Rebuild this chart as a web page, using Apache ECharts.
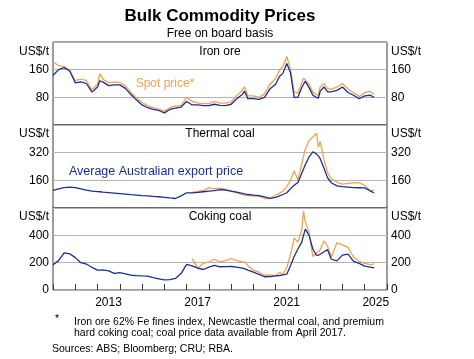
<!DOCTYPE html>
<html>
<head>
<meta charset="utf-8">
<script src="https://cdn.jsdelivr.net/npm/echarts@6/dist/echarts.min.js"></script>
<style>html,body{margin:0;padding:0;background:#fff}#c{width:474px;height:359px}</style>
</head>
<body>
<div id="c"></div>
<script>
// Decimal-year dates of the readings
const dates = [2011.0, 2011.25, 2011.5, 2011.75, 2012.0, 2012.25, 2012.5, 2012.75,
  2013.0, 2013.1, 2013.25, 2013.5, 2013.75, 2014.0, 2014.25, 2014.5, 2014.75,
  2015.0, 2015.25, 2015.5, 2015.75, 2016.0, 2016.25, 2016.5, 2016.75,
  2017.0, 2017.25, 2017.5, 2017.75, 2018.0, 2018.25, 2018.5, 2018.75,
  2019.0, 2019.25, 2019.5, 2019.6, 2019.75, 2020.0, 2020.25, 2020.5, 2020.75,
  2021.0, 2021.17, 2021.33, 2021.5, 2021.67, 2021.83,
  2022.0, 2022.17, 2022.25, 2022.33, 2022.5, 2022.67, 2022.83, 2022.92,
  2023.0, 2023.17, 2023.33, 2023.5, 2023.75,
  2024.0, 2024.25, 2024.5, 2024.75, 2025.0, 2025.25, 2025.42];

// Iron ore (US$/t)
const ironSpot = [182, 172, 169, 158, 128, 133, 128, 102,
  118, 148, 132, 122, 124, 123, 113, 94, 78,
  65, 56, 50, 46, 40, 50, 55, 56,
  80, 68, 64, 62, 62, 68, 63, 63,
  67, 85, 100, 111, 84, 84, 80, 90, 118,
  135, 158, 170, 198, 160, 95,
  92, 122, 135, 140, 118, 95, 88, 86,
  110, 120, 105, 103, 110,
  120, 104, 93, 82, 94, 97, 88];
const ironExport = [143, 160, 166, 156, 122, 125, 120, 95,
  110, 128, 124, 114, 116, 116, 106, 88, 72,
  58, 50, 45, 42, 35, 45, 49, 52,
  68, 58, 58, 56, 56, 60, 57, 56,
  60, 76, 88, 98, 76, 76, 74, 80, 105,
  118, 140, 150, 178, 150, 80,
  80, 108, 118, 126, 108, 86, 80, 78,
  98, 110, 96, 96, 100,
  110, 94, 86, 76, 84, 86, 80];

// Thermal coal (US$/t)
const thermalSpot = [null, null, null, null, null, null, null, null,
  null, null, null, null, null, null, null, null, null,
  null, null, null, null, null, null, null, null,
  null, 90, 96, 100, 118, 110, 115, 108,
  98, 88, 78, 74, 72, 70, 68, 55, 55,
  75, 85, 98, 125, 160, 215,
  160, 255, 300, 340, 390, 410, 432, 352,
  385, 280, 205, 170, 150,
  138, 142, 145, 146, 131, 100, 104];
const thermalExport = [102, 110, 118, 121, 118, 111, 104, 98,
  95, 94, 92, 89, 86, 83, 80, 77, 75,
  72, 70, 67, 65, 62, 58, 55, 70,
  88, 88, 90, 94, 98, 100, 106, 104,
  98, 92, 85, 82, 78, 74, 72, 64, 56,
  62, 70, 78, 88, 112, 132,
  148, 200, 225, 250, 295, 325, 312, 300,
  285, 230, 175, 146, 128,
  124, 121, 118, 117, 116, 98, 88];

// Coking coal (US$/t)
const cokingSpot = [null, null, null, null, null, null, null, null,
  null, null, null, null, null, null, null, null, null,
  null, null, null, null, null, null, null, null,
  null, 230, 160, 195, 205, 225, 205, 215,
  230, 215, 205, 205, 180, 145, 130, 108, 110,
  105, 130, 115, 165, 260, 380,
  350, 440, 575, 500, 420, 245, 270, 280,
  295, 360, 320, 240, 345,
  330, 312, 240, 210, 195, 185, 192];
const cokingExport = [185, 215, 272, 265, 237, 200, 190, 165,
  145, 146, 147, 140, 122, 127, 118, 108, 105,
  103, 102, 90, 82, 74, 76, 85, 120,
  188, 176, 160, 150, 168, 180, 170, 171,
  172, 168, 160, 156, 145, 130, 115, 97, 98,
  103, 106, 110, 116, 180, 245,
  300, 350, 400, 445, 400, 300, 255, 254,
  254, 280, 295, 225, 213,
  255, 262, 210, 195, 175, 168, 162];

const yearLabels = [2013, 2017, 2021, 2025];
const panelNames = ['Iron ore', 'Thermal coal', 'Coking coal'];
const panelMax = [240, 480, 600];
const panelStep = [80, 160, 200];

const ORANGE = '#f5a04a';
const BLUE = '#1b2d9a';
const FONT = '"Liberation Sans", Arial, sans-serif';

const chart = echarts.init(document.getElementById('c'), null, {renderer: 'canvas'});

const tops = [42, 125, 208];
const heights = [83, 83, 82];
const grids = tops.map((t, i) => ({
  left: 53, right: 87, top: t, height: heights[i],
  show: true, borderColor: '#3a3a3a', borderWidth: 1, backgroundColor: 'transparent'
}));

const xAxes = [0, 1, 2].map(i => ({
  type: 'value', gridIndex: i, min: 2011, max: 2026, interval: 1,
  axisLine: {show: false},
  splitLine: {show: false},
  axisTick: {show: i === 2, inside: true, length: 6, lineStyle: {color: '#3a3a3a', width: 1}},
  axisLabel: {
    show: i === 2, margin: 7, fontSize: 12, color: '#000', fontFamily: FONT,
    padding: [0, 0, 0, 22],
    formatter: v => yearLabels.includes(v) ? String(v) : ''
  }
}));

const yAxes = [];
[0, 1, 2].forEach(i => {
  const fmt = v => (v === panelMax[i] || (v === 0 && i < 2)) ? '' : String(v);
  yAxes.push({
    type: 'value', gridIndex: i, position: 'left', min: 0, max: panelMax[i], interval: panelStep[i],
    axisLine: {show: false}, axisTick: {show: false},
    splitLine: {show: true, lineStyle: {color: '#b4b4b4', width: 1}},
    axisLabel: {margin: 4, fontSize: 12, color: '#000', fontFamily: FONT, formatter: fmt}
  });
  yAxes.push({
    type: 'value', gridIndex: i, position: 'right', min: 0, max: panelMax[i], interval: panelStep[i],
    axisLine: {show: false}, axisTick: {show: false}, splitLine: {show: false},
    axisLabel: {margin: 4, fontSize: 12, color: '#000', fontFamily: FONT, formatter: fmt}
  });
});

function pts(arr) { return dates.map((d, i) => [d, arr[i]]); }
function line(arr, color, idx) {
  return {
    type: 'line', xAxisIndex: idx, yAxisIndex: idx * 2, data: pts(arr),
    showSymbol: false, symbol: 'none', connectNulls: false, smooth: false,
    lineStyle: {color: color, width: 1.3}, itemStyle: {color: color}, z: color === BLUE ? 3 : 2,
    animation: false
  };
}

const series = [
  line(ironSpot, ORANGE, 0), line(ironExport, BLUE, 0),
  line(thermalSpot, ORANGE, 1), line(thermalExport, BLUE, 1),
  line(cokingSpot, ORANGE, 2), line(cokingExport, BLUE, 2)
];

const txt = (x, y, text, opts) => ({
  type: 'text', x: x, y: y, z: 10,
  style: Object.assign({text: text, x: 0, y: 0, fill: '#000', font: '12px ' + FONT,
    textAlign: 'center', textVerticalAlign: 'middle'}, opts || {})
});

const graphics = [
  txt(220, 16, 'Bulk Commodity Prices', {font: 'bold 17px ' + FONT}),
  txt(220, 33.5, 'Free on board basis', {font: '12px ' + FONT}),
  txt(165, 84, 'Spot price*', {fill: ORANGE}),
  txt(156, 172, 'Average Australian export price', {fill: BLUE, font: '12.5px ' + FONT}),
  txt(55, 319, '*', {font: '10.5px ' + FONT, textAlign: 'left'}),
  txt(74, 322, 'Iron ore 62% Fe fines index, Newcastle thermal coal, and premium', {font: '10.5px ' + FONT, textAlign: 'left'}),
  txt(74, 333.5, 'hard coking coal; coal price data available from April 2017.', {font: '10.5px ' + FONT, textAlign: 'left'}),
  txt(52, 349, 'Sources: ABS; Bloomberg; CRU; RBA.', {font: '10.5px ' + FONT, textAlign: 'left'})
];
const labelY = [52, 134, 217];
labelY.forEach((y, i) => {
  graphics.push(txt(220, y, panelNames[i]));
  graphics.push(txt(49, y, 'US$/t', {textAlign: 'right'}));
  graphics.push(txt(391, y, 'US$/t', {textAlign: 'left'}));
});

chart.setOption({
  animation: false,
  backgroundColor: '#fff',
  grid: grids,
  xAxis: xAxes,
  yAxis: yAxes,
  series: series,
  graphic: graphics
});
</script>
</body>
</html>
